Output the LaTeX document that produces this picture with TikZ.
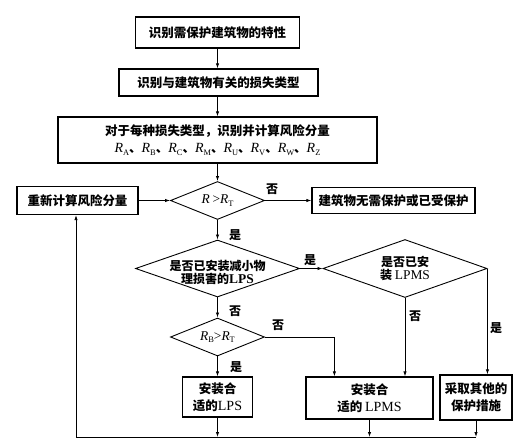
\documentclass[tikz,border=0pt]{standalone}
\usepackage{fontspec}
\setmainfont{Liberation Serif}
\newfontfamily\cjkf{Noto Sans CJK SC}
\newfontfamily\latf{Liberation Serif}[Scale=1.12]
\usetikzlibrary{shapes.geometric,arrows.meta}
\newcommand\lt[1]{{\latf\mdseries #1}}
\newcommand\Rsub[1]{{\latf\mdseries\itshape R}\raisebox{-0.35ex}{\latf\mdseries\fontsize{7.5}{8}\selectfont #1}}
\tikzset{
  box/.style={draw, line width=1.2pt, inner sep=0pt, align=center,
    font=\cjkf\bfseries\fontsize{12.5}{17}\selectfont},
  dia/.style={draw, diamond, line width=0.9pt, inner sep=0pt},
  dtext/.style={align=center, inner sep=0pt,
    font=\cjkf\bfseries\fontsize{12}{12.5}\selectfont},
  arr/.style={line width=0.8pt, -{Latex[length=5pt,width=3.4pt]}},
  ln/.style={line width=0.8pt},
  lab/.style={inner sep=0pt, font=\cjkf\bfseries\fontsize{12}{12}\selectfont}
}
\begin{document}
\begin{tikzpicture}[x=1pt,y=-1pt]
\useasboundingbox (0,0) rectangle (531,445);
\node[box, minimum width=164pt, minimum height=31pt] (b1) at (217.5,32.5) {识别需保护建筑物的特性};
\node[box, minimum width=199pt, minimum height=27pt] (b2) at (218.5,82.5) {识别与建筑物有关的损失类型};
\node[box, minimum width=319pt, minimum height=46pt] (b3) at (217.5,140) {对于每种损失类型，识别并计算风险分量\\ \Rsub{A}、\Rsub{B}、\Rsub{C}、\Rsub{M}、\Rsub{U}、\Rsub{V}、\Rsub{W}、\Rsub{Z}};
\node[dia, minimum width=94pt, minimum height=38pt,
  label={[dtext]center:{\latf\mdseries\itshape R} \lt{>}\Rsub{T}}] (d1) at (217.5,200.5) {};
\node[box, minimum width=121pt, minimum height=28pt] (rc) at (77.5,200.5) {重新计算风险分量};
\node[box, minimum width=163pt, minimum height=26pt] (np) at (393.5,200.5) {建筑物无需保护或已受保护};
\node[dia, minimum width=164pt, minimum height=57pt,
  label={[dtext,yshift=-4pt]center:是否已安装减小物\\理损害的{\latf LPS}}] (d2) at (217.5,268.5) {};
\node[dia, minimum width=164pt, minimum height=58pt,
  label={[dtext]center:是否已安\\装 \lt{LPMS}}] (d3) at (405,268.5) {};
\node[dia, minimum width=94pt, minimum height=38pt,
  label={[dtext]center:\Rsub{B}\lt{>}\Rsub{T}}] (d4) at (217.5,337) {};
\node[box, minimum width=70pt, minimum height=40pt] (lps) at (217.5,397) {安装合\\适的\lt{LPS}};
\node[box, minimum width=127pt, minimum height=42pt] (lpms) at (369.5,398) {安装合\\适的 \lt{LPMS}};
\node[box, minimum width=72pt, minimum height=45pt] (oth) at (476,397.5) {采取其他的\\保护措施};
\coordinate (bl) at (76,437);
% labels
\node[lab] (l1) at (272,189) {否};
\node[lab] (l2) at (235,235) {是};
\node[lab] (l3) at (310,260) {是};
\node[lab] (l4) at (235,311) {否};
\node[lab] (l5) at (278,325) {否};
\node[lab] (l6) at (415,316) {否};
\node[lab] (l7) at (496,328) {是};
\node[lab] (l8) at (236,367) {是};
% connectors
\draw[arr] (b1.south) -- (b1.south |- b2.north);
\draw[arr] (b1.south |- b2.south) -- (b3.north);
\draw[arr] (b3.south) -- (d1.north);
\draw[arr] (rc.east) -- (d1.west);
\draw[arr] (d1.east) -- (np.west);
\draw[arr] (d1.south) -- (d2.north);
\draw[arr] (d2.east) -- (d3.west);
\draw[arr] (d2.south) -- (d4.north);
\draw[arr] (d4.south) -- (lps.north);
\draw[arr] (d4.east) -| ([xshift=29pt]lpms.north west);
\draw[arr] (d3.south) -- (d3.south |- lpms.north);
\draw[arr] (d3.east) -- (d3.east |- oth.north);
\draw[arr] (lps.south) -- (lps.south |- bl);
\draw[arr] (lpms.south) -- (lpms.south |- bl);
\draw[arr] (oth.south) -- (oth.south |- bl);
\draw[ln] (oth.south |- bl) -- (bl);
\draw[arr] (bl) -- (bl |- rc.south);
\end{tikzpicture}
\end{document}
